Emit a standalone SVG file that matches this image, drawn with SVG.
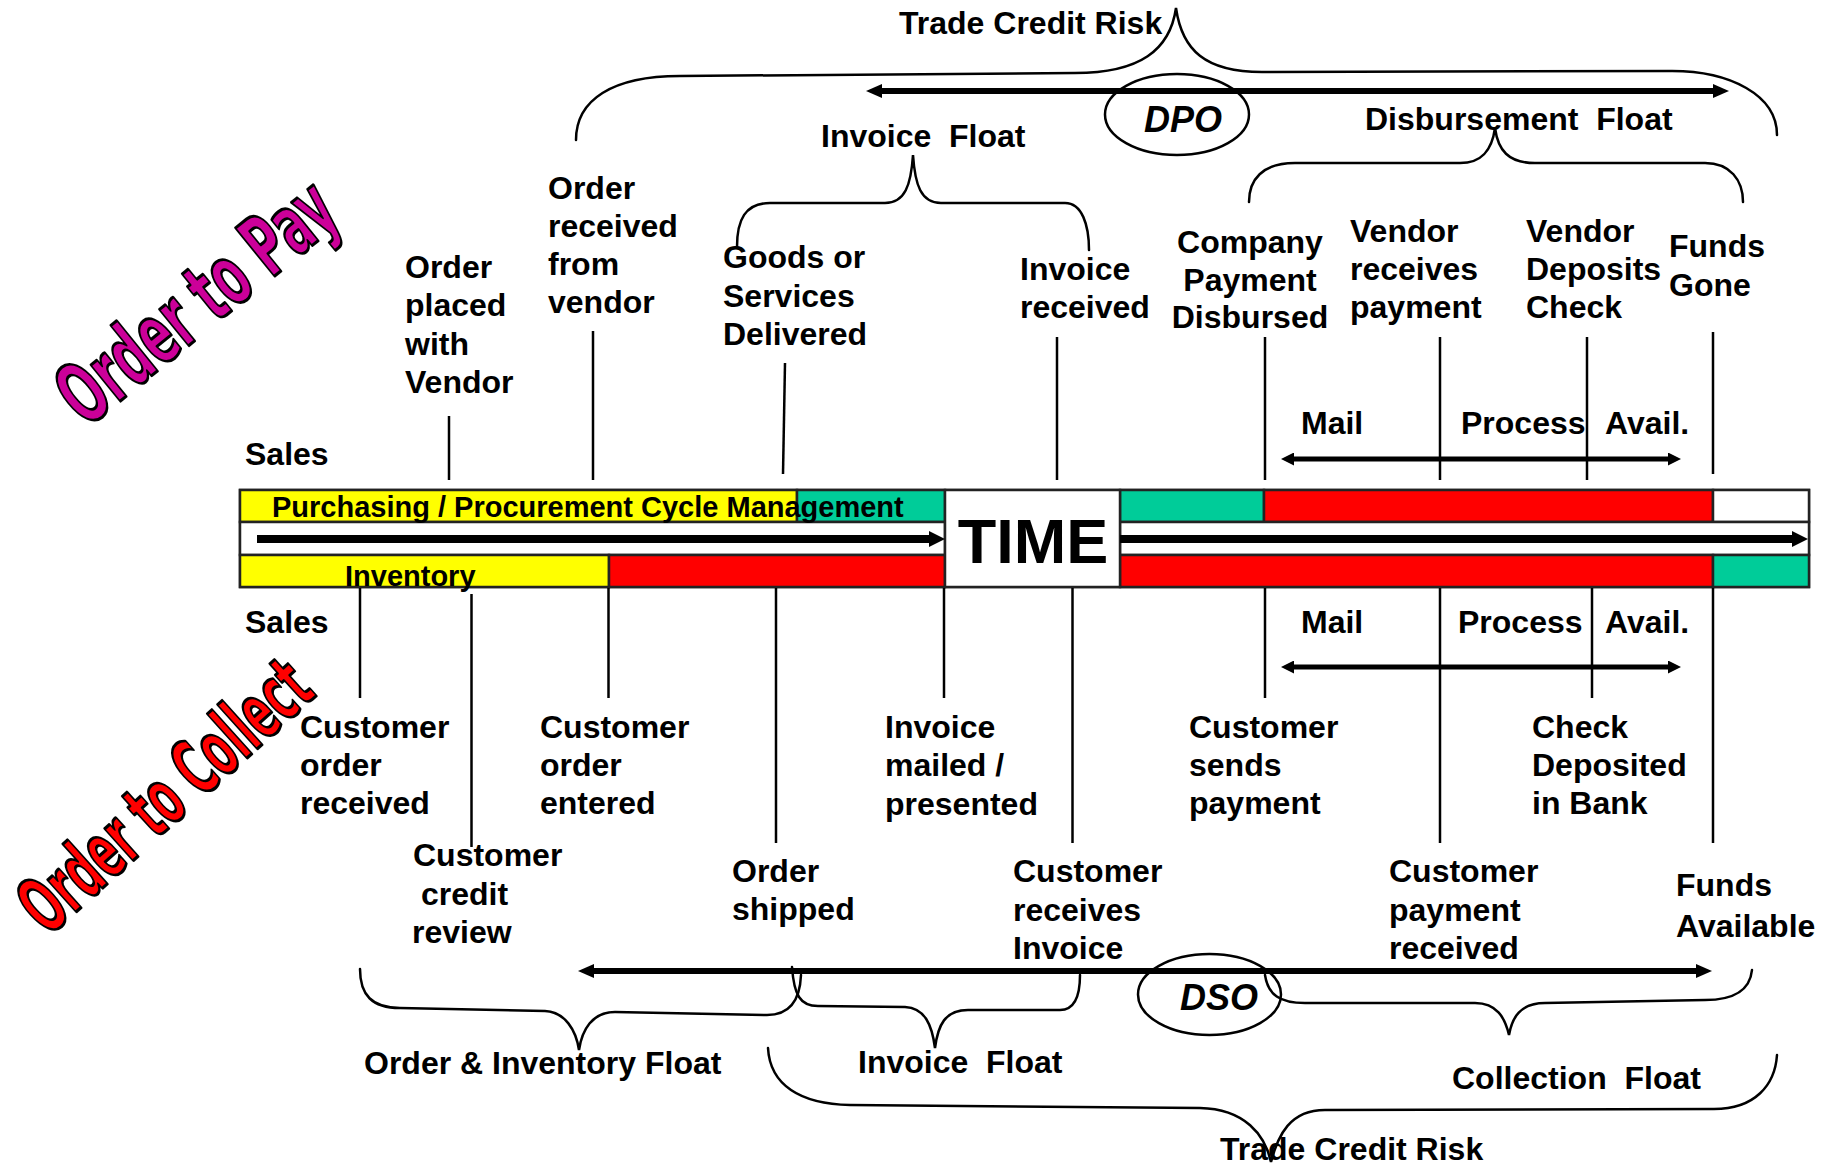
<svg xmlns="http://www.w3.org/2000/svg" width="1830" height="1164" viewBox="0 0 1830 1164">
  <defs>
    <style>
      .lbl { font-family: "Liberation Sans", Arial, Helvetica, sans-serif; font-weight: bold; font-size: 32px; fill: #000; }
      .bar-txt { font-family: "Liberation Sans", Arial, Helvetica, sans-serif; font-weight: bold; font-size: 29px; fill: #000; }
      .time { font-family: "Liberation Sans", Arial, Helvetica, sans-serif; font-weight: bold; font-size: 63px; fill: #000; }
      .days { font-family: "Liberation Sans", Arial, Helvetica, sans-serif; font-weight: bold; font-style: italic; font-size: 36px; fill: #000; }
      .art { font-family: "DejaVu Sans", "Liberation Sans", Arial, sans-serif; font-weight: bold; stroke: #000; stroke-width: 2.5px; stroke-linejoin: round; }
      .tick { stroke: #000; stroke-width: 2.5; fill: none; }
      .brace { stroke: #000; stroke-width: 2.5; fill: none; stroke-linecap: round; }
      .bar { stroke: #222; stroke-width: 2.5; }
      .ring { fill: none; stroke: #000; stroke-width: 2.5; }
      .yel { fill: #FFFF00; }
      .grn { fill: #00CC99; }
      .red { fill: #FF0000; }
      .wht { fill: #FFFFFF; }
    </style>
    <marker id="headStrip" markerUnits="userSpaceOnUse" markerWidth="16" markerHeight="16" refX="0" refY="8" orient="auto-start-reverse">
      <path d="M0,0 L16,8 L0,16 Z" fill="#000"/>
    </marker>
    <marker id="headSpan" markerUnits="userSpaceOnUse" markerWidth="16" markerHeight="14" refX="0" refY="7" orient="auto-start-reverse">
      <path d="M0,0 L16,7 L0,14 Z" fill="#000"/>
    </marker>
    <marker id="headSmall" markerUnits="userSpaceOnUse" markerWidth="13" markerHeight="13" refX="0" refY="6.5" orient="auto-start-reverse">
      <path d="M0,0 L13,6.5 L0,13 Z" fill="#000"/>
    </marker>
  </defs>

  <rect width="1830" height="1164" fill="#FFFFFF"/>

  <!-- time line bars -->
  <g id="timeline">
    <rect class="bar wht" x="240" y="490" width="1569" height="97"/>
    <!-- payables row -->
    <rect class="bar yel" x="240" y="490" width="557" height="32"/>
    <rect class="bar grn" x="797" y="490" width="148" height="32"/>
    <rect class="bar grn" x="1120" y="490" width="144" height="32"/>
    <rect class="bar red" x="1264" y="490" width="449" height="32"/>
    <rect class="bar wht" x="1713" y="490" width="96" height="32"/>
    <!-- middle strip -->
    <rect class="bar wht" x="240" y="522" width="705" height="33"/>
    <rect class="bar wht" x="1120" y="522" width="689" height="33"/>
    <!-- receivables row -->
    <rect class="bar yel" x="240" y="555" width="369" height="32"/>
    <rect class="bar red" x="609" y="555" width="336" height="32"/>
    <rect class="bar red" x="1120" y="555" width="593" height="32"/>
    <rect class="bar grn" x="1713" y="555" width="96" height="32"/>
    <!-- TIME box -->
    <rect class="bar wht" x="945" y="490" width="175" height="97"/>
    <text class="time" x="1033" y="563" text-anchor="middle">TIME</text>
    <text class="bar-txt" x="272" y="517">Purchasing / Procurement Cycle Management</text>
    <text class="bar-txt" x="345" y="586">Inventory</text>
  </g>

  <!-- connectors: ticks, spans and braces -->
  <g id="connectors">
    <!-- arrows through the time strip -->
    <line x1="257" y1="539" x2="929" y2="539" stroke="#000" stroke-width="8" marker-end="url(#headStrip)"/>
    <line x1="1120" y1="539" x2="1792" y2="539" stroke="#000" stroke-width="8" marker-end="url(#headStrip)"/>

    <!-- ticks above the bar -->
    <line class="tick" x1="449" y1="416" x2="449" y2="480"/>
    <line class="tick" x1="593" y1="331" x2="593" y2="480"/>
    <line class="tick" x1="785" y1="363" x2="783" y2="474"/>
    <line class="tick" x1="1057" y1="337" x2="1057" y2="480"/>
    <line class="tick" x1="1265" y1="337" x2="1265" y2="480"/>
    <line class="tick" x1="1440" y1="337" x2="1440" y2="480"/>
    <line class="tick" x1="1587" y1="337" x2="1587" y2="480"/>
    <line class="tick" x1="1713" y1="332" x2="1713" y2="474"/>

    <!-- ticks below the bar -->
    <line class="tick" x1="360" y1="588" x2="360" y2="698"/>
    <line class="tick" x1="471.5" y1="594" x2="471.5" y2="847"/>
    <line class="tick" x1="608.5" y1="588" x2="608.5" y2="698"/>
    <line class="tick" x1="776" y1="588" x2="776" y2="843"/>
    <line class="tick" x1="944" y1="588" x2="944" y2="698"/>
    <line class="tick" x1="1072.5" y1="588" x2="1072.5" y2="843"/>
    <line class="tick" x1="1265" y1="588" x2="1265" y2="698"/>
    <line class="tick" x1="1440" y1="588" x2="1440" y2="843"/>
    <line class="tick" x1="1592" y1="588" x2="1592" y2="698"/>
    <line class="tick" x1="1713" y1="588" x2="1713" y2="843"/>

    <!-- mail / process / avail spans -->
    <line x1="1294" y1="459" x2="1668" y2="459" stroke="#000" stroke-width="5" marker-start="url(#headSmall)" marker-end="url(#headSmall)"/>
    <line x1="1294" y1="667" x2="1668" y2="667" stroke="#000" stroke-width="5" marker-start="url(#headSmall)" marker-end="url(#headSmall)"/>

    <!-- DPO and DSO spans -->
    <line x1="882" y1="91" x2="1713" y2="91" stroke="#000" stroke-width="6" marker-start="url(#headSpan)" marker-end="url(#headSpan)"/>
    <line x1="594" y1="971" x2="1696" y2="971" stroke="#000" stroke-width="6" marker-start="url(#headSpan)" marker-end="url(#headSpan)"/>

    <!-- braces above -->
    <path class="brace" d="M576,140 C576,100 612,76 680,76 L1075,73 C1140,73 1170,50 1176,8 C1182,50 1205,72 1262,72 L1672,71 C1730,71 1777,95 1777,135"/>
    <path class="brace" d="M1249,202 C1249,180 1262,163 1295,163 L1460,163 C1482,163 1492,150 1495,128 C1498,150 1508,163 1535,163 L1705,163 C1730,163 1743,180 1743,202"/>
    <path class="brace" d="M737,247 C737,220 745,203 770,203 L885,203 C905,203 911,185 913,155 C915,185 921,203 941,203 L1065,203 C1082,203 1089,225 1089,250"/>

    <!-- braces below -->
    <path class="brace" d="M360,969 C360,995 372,1008 400,1008 L545,1011 C565,1012 576,1030 579,1050 C582,1030 592,1012 615,1012 L767,1015 C790,1015 800,1000 801,975"/>
    <path class="brace" d="M792,967 C794,995 800,1006 818,1006 L905,1007 C925,1008 932,1025 935,1048 C938,1025 945,1010 968,1010 L1060,1010 C1075,1010 1080,995 1080,975"/>
    <path class="brace" d="M1265,975 C1268,995 1280,1003 1305,1003 L1475,1003 C1497,1003 1505,1018 1509,1035 C1512,1018 1520,1003 1545,1003 L1705,1000 C1735,1000 1750,990 1752,970"/>
    <path class="brace" d="M768,1048 C770,1085 800,1104 850,1105 L1200,1108 C1245,1109 1265,1135 1271,1162 C1278,1135 1290,1110 1325,1110 L1714,1109 C1755,1109 1775,1085 1777,1055"/>
  </g>

  <!-- payables events -->
  <g id="sales-top"><text class="lbl" x="245" y="465">Sales</text></g>
  <g id="order-placed">
    <text class="lbl" x="405" y="278">Order</text>
    <text class="lbl" x="405" y="316">placed</text>
    <text class="lbl" x="405" y="355">with</text>
    <text class="lbl" x="405" y="393">Vendor</text>
  </g>
  <g id="order-received">
    <text class="lbl" x="548" y="199">Order</text>
    <text class="lbl" x="548" y="237">received</text>
    <text class="lbl" x="548" y="275">from</text>
    <text class="lbl" x="548" y="313">vendor</text>
  </g>
  <g id="goods-delivered">
    <text class="lbl" x="723" y="268">Goods or</text>
    <text class="lbl" x="723" y="307">Services</text>
    <text class="lbl" x="723" y="345">Delivered</text>
  </g>
  <g id="invoice-received">
    <text class="lbl" x="1020" y="280">Invoice</text>
    <text class="lbl" x="1020" y="318">received</text>
  </g>
  <g id="payment-disbursed">
    <text class="lbl" x="1250" y="253" text-anchor="middle">Company</text>
    <text class="lbl" x="1250" y="291" text-anchor="middle">Payment</text>
    <text class="lbl" x="1250" y="328" text-anchor="middle">Disbursed</text>
  </g>
  <g id="vendor-receives">
    <text class="lbl" x="1350" y="242">Vendor</text>
    <text class="lbl" x="1350" y="280">receives</text>
    <text class="lbl" x="1350" y="318">payment</text>
  </g>
  <g id="vendor-deposits">
    <text class="lbl" x="1526" y="242">Vendor</text>
    <text class="lbl" x="1526" y="280">Deposits</text>
    <text class="lbl" x="1526" y="318">Check</text>
  </g>
  <g id="funds-gone">
    <text class="lbl" x="1669" y="257">Funds</text>
    <text class="lbl" x="1669" y="296">Gone</text>
  </g>
  <g id="float-steps-top">
    <text class="lbl" x="1301" y="434">Mail</text>
    <text class="lbl" x="1461" y="434">Process</text>
    <text class="lbl" x="1605" y="434">Avail.</text>
  </g>
  <g id="invoice-float-top"><text class="lbl" x="821" y="147" xml:space="preserve">Invoice  Float</text></g>
  <g id="disbursement-float"><text class="lbl" x="1365" y="130" xml:space="preserve">Disbursement  Float</text></g>
  <g id="trade-credit-top"><text class="lbl" x="899" y="34">Trade Credit Risk</text></g>
  <g id="dpo">
    <ellipse class="ring" cx="1177" cy="114.5" rx="72" ry="40.5"/>
    <text class="days" x="1183" y="132" text-anchor="middle">DPO</text>
  </g>

  <!-- receivables events -->
  <g id="sales-bottom"><text class="lbl" x="245" y="633">Sales</text></g>
  <g id="float-steps-bottom">
    <text class="lbl" x="1301" y="633">Mail</text>
    <text class="lbl" x="1458" y="633">Process</text>
    <text class="lbl" x="1605" y="633">Avail.</text>
  </g>
  <g id="customer-order-received">
    <text class="lbl" x="300" y="738">Customer</text>
    <text class="lbl" x="300" y="776">order</text>
    <text class="lbl" x="300" y="814">received</text>
  </g>
  <g id="credit-review">
    <text class="lbl" x="413" y="866">Customer</text>
    <text class="lbl" x="421" y="905">credit</text>
    <text class="lbl" x="412" y="943">review</text>
  </g>
  <g id="order-entered">
    <text class="lbl" x="540" y="738">Customer</text>
    <text class="lbl" x="540" y="776">order</text>
    <text class="lbl" x="540" y="814">entered</text>
  </g>
  <g id="order-shipped">
    <text class="lbl" x="732" y="882">Order</text>
    <text class="lbl" x="732" y="920">shipped</text>
  </g>
  <g id="invoice-mailed">
    <text class="lbl" x="885" y="738">Invoice</text>
    <text class="lbl" x="885" y="776">mailed /</text>
    <text class="lbl" x="885" y="815">presented</text>
  </g>
  <g id="invoice-arrives">
    <text class="lbl" x="1013" y="882">Customer</text>
    <text class="lbl" x="1013" y="921">receives</text>
    <text class="lbl" x="1013" y="959">Invoice</text>
  </g>
  <g id="customer-sends">
    <text class="lbl" x="1189" y="738">Customer</text>
    <text class="lbl" x="1189" y="776">sends</text>
    <text class="lbl" x="1189" y="814">payment</text>
  </g>
  <g id="payment-received">
    <text class="lbl" x="1389" y="882">Customer</text>
    <text class="lbl" x="1389" y="921">payment</text>
    <text class="lbl" x="1389" y="959">received</text>
  </g>
  <g id="check-deposited">
    <text class="lbl" x="1532" y="738">Check</text>
    <text class="lbl" x="1532" y="776">Deposited</text>
    <text class="lbl" x="1532" y="814">in Bank</text>
  </g>
  <g id="funds-available">
    <text class="lbl" x="1676" y="896">Funds</text>
    <text class="lbl" x="1676" y="937">Available</text>
  </g>
  <g id="order-inventory-float"><text class="lbl" x="364" y="1074">Order &amp; Inventory Float</text></g>
  <g id="invoice-float-bottom"><text class="lbl" x="858" y="1073" xml:space="preserve">Invoice  Float</text></g>
  <g id="collection-float"><text class="lbl" x="1452" y="1089" xml:space="preserve">Collection  Float</text></g>
  <g id="trade-credit-bottom"><text class="lbl" x="1220" y="1160">Trade Credit Risk</text></g>
  <g id="dso">
    <ellipse class="ring" cx="1209.5" cy="994.5" rx="71.5" ry="40.5"/>
    <text class="days" x="1219" y="1010" text-anchor="middle">DSO</text>
  </g>

  <!-- slanted cycle titles -->
  <g id="order-to-pay">
    <text class="art" transform="translate(196,301) rotate(-39) scale(0.55,1)" x="0" y="30" text-anchor="middle" font-size="85" fill="#CC0099" vector-effect="non-scaling-stroke">Order to Pay</text>
  </g>
  <g id="order-to-collect">
    <text class="art" transform="translate(164,795) rotate(-42) scale(0.52,1)" x="0" y="28" text-anchor="middle" font-size="78" fill="#FF0000" vector-effect="non-scaling-stroke">Order to Collect</text>
  </g>
</svg>
